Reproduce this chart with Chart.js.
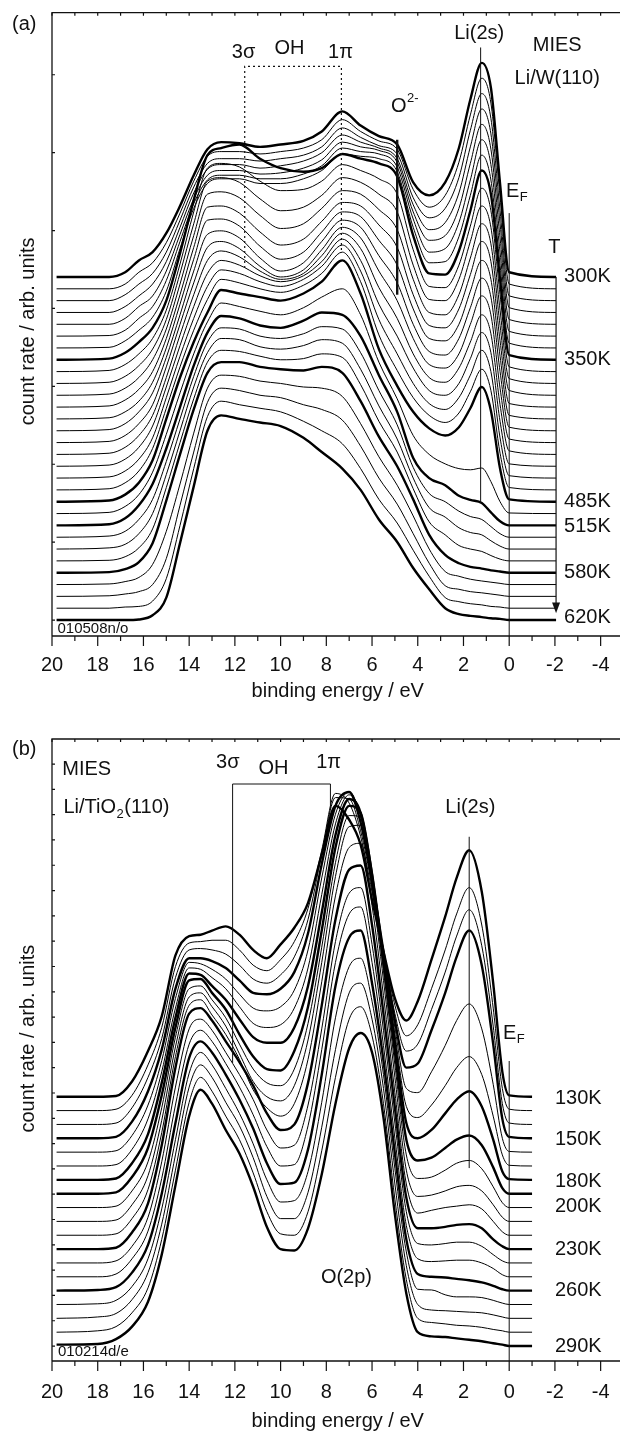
<!DOCTYPE html>
<html><head><meta charset="utf-8">
<script src="https://cdn.jsdelivr.net/npm/chart.js@4.4.1/dist/chart.umd.min.js"></script>
<style>
html,body{margin:0;padding:0;background:#fff;overflow:hidden;width:620px;height:1432px;}
#wa{position:absolute;left:0;top:0;width:640px;height:710px;}
#wb{position:absolute;left:0;top:710px;width:640px;height:724px;}
canvas{display:block;}
</style></head><body>
<div id="wa"><canvas id="ca" width="640" height="710"></canvas></div>
<div id="wb"><canvas id="cb" width="640" height="724"></canvas></div>
<script>
// ---------------- DATA: panel (a) Li/W(110) ----------------
const energyA = [19.8, 17.5, 16.8, 16.2, 15.6, 15.0, 14.4, 13.8, 13.2, 12.6, 11.8, 10.9, 10.0, 9.0, 8.2, 7.3, 6.5, 5.7, 4.9, 4.2, 3.5, 2.8, 2.2, 1.7, 1.2, 0.8, 0.4, 0.0, -2.05];
const tempLabelsA = ['300K', '350K', '485K', '515K', '580K', '620K'];
const labelIndexA = [0, 7, 19, 21, 25, 29];
// intensity above each spectrum's own baseline (arb. units), top spectrum first
const spectraA = [
 [0, 0, 0.4, 1.4, 2.1, 3.7, 6.0, 8.6, 10.8, 11.4, 11.3, 11.0, 11.2, 11.5, 12.3, 14.0, 12.8, 11.9, 11.2, 8.0, 6.9, 8.0, 10.9, 15.0, 18.1, 16.0, 7.9, 0.4, 0],
 [0, 0, 0.4, 1.4, 2.2, 3.9, 6.4, 9.1, 11.2, 11.6, 11.6, 11.4, 11.6, 11.9, 12.6, 14.3, 13.3, 12.5, 11.8, 8.4, 6.9, 7.9, 10.7, 14.7, 17.8, 15.7, 7.8, 0.4, 0],
 [0, 0, 0.5, 1.4, 2.3, 4.1, 6.8, 9.6, 11.6, 12.0, 12.0, 11.8, 12.0, 12.3, 13.0, 14.6, 13.8, 13.1, 12.4, 8.7, 7.0, 7.8, 10.4, 14.4, 17.5, 15.4, 7.6, 0.4, 0],
 [0, 0, 0.5, 1.4, 2.4, 4.3, 7.2, 10.1, 12.1, 12.5, 12.5, 12.2, 12.4, 12.8, 13.5, 15.0, 14.4, 13.9, 13.0, 9.1, 7.0, 7.6, 10.1, 14.0, 17.2, 15.1, 7.5, 0.4, 0],
 [0, 0, 0.5, 1.5, 2.4, 4.5, 7.6, 10.6, 12.6, 13.0, 13.0, 12.7, 12.8, 13.2, 13.9, 15.4, 15.0, 14.7, 13.7, 9.5, 7.1, 7.5, 9.8, 13.6, 16.9, 14.8, 7.3, 0.4, 0],
 [0, 0.05, 0.5, 1.5, 2.5, 4.7, 8.0, 11.2, 13.2, 13.6, 13.6, 13.3, 13.3, 13.7, 14.4, 15.9, 15.6, 15.4, 14.3, 9.9, 7.1, 7.4, 9.6, 13.2, 16.6, 14.5, 7.1, 0.4, 0],
 [0, 0.05, 0.6, 1.5, 2.6, 4.8, 8.4, 11.8, 13.9, 14.3, 14.3, 13.9, 13.9, 14.3, 15.0, 16.4, 16.2, 16.0, 14.9, 10.2, 7.2, 7.3, 9.4, 12.9, 16.3, 14.2, 7.0, 0.4, 0],
 [0, 0.1, 0.6, 1.5, 2.7, 5.0, 9.0, 13.5, 17.3, 17.9, 18.2, 17.0, 16.2, 15.9, 16.2, 17.4, 17.0, 16.6, 15.5, 10.5, 7.3, 7.2, 9.2, 12.6, 16.0, 14.0, 6.8, 0.4, 0],
 [0, 0.1, 0.6, 1.5, 2.8, 5.2, 9.1, 13.5, 17.2, 17.6, 17.3, 16.1, 15.3, 15.4, 16.1, 17.5, 17.0, 16.3, 15.0, 10.3, 7.2, 7.1, 9.0, 12.3, 15.5, 13.6, 6.5, 0.4, 0],
 [0, 0.1, 0.6, 1.5, 2.9, 5.4, 9.3, 13.5, 17.1, 17.4, 17.0, 15.6, 14.6, 14.9, 15.9, 17.4, 17.0, 16.0, 14.5, 10.0, 7.1, 7.0, 8.8, 12.0, 15.0, 13.2, 6.2, 0.4, 0],
 [0, 0.1, 0.6, 1.5, 3.0, 5.6, 9.4, 13.5, 17.0, 17.2, 16.7, 15.2, 14.1, 14.5, 15.8, 17.3, 17.0, 15.7, 14.0, 9.8, 7.0, 6.8, 8.5, 11.6, 14.5, 12.8, 5.9, 0.4, 0],
 [0, 0.1, 0.6, 1.5, 3.0, 5.8, 9.5, 13.5, 16.9, 17.0, 16.4, 14.8, 13.7, 14.2, 15.7, 17.3, 17.0, 15.4, 13.5, 9.5, 6.9, 6.7, 8.3, 11.2, 14.0, 12.3, 5.6, 0.3, 0],
 [0, 0.1, 0.6, 1.5, 3.1, 6.0, 9.7, 13.5, 16.8, 16.9, 16.3, 14.6, 13.5, 14.1, 15.8, 17.5, 17.1, 15.1, 13.0, 9.3, 6.8, 6.6, 8.0, 10.8, 13.4, 11.8, 5.3, 0.3, 0],
 [0, 0.1, 0.6, 1.6, 3.2, 6.2, 9.8, 13.5, 16.6, 16.9, 16.3, 14.6, 13.5, 14.2, 16.0, 17.8, 17.2, 14.8, 12.5, 9.0, 6.7, 6.4, 7.8, 10.4, 12.9, 11.3, 5.0, 0.3, 0],
 [0, 0.1, 0.6, 1.6, 3.2, 6.4, 10.0, 13.5, 16.5, 17.0, 16.4, 14.9, 14.0, 14.6, 16.3, 18.2, 17.3, 14.5, 12.0, 8.8, 6.6, 6.3, 7.5, 10.0, 12.4, 10.8, 4.6, 0.3, 0],
 [0, 0.1, 0.6, 1.6, 3.3, 6.5, 10.1, 13.5, 16.4, 17.2, 16.7, 15.5, 14.8, 15.3, 16.8, 18.7, 17.4, 14.1, 11.5, 8.5, 6.5, 6.1, 7.3, 9.5, 11.8, 10.2, 4.2, 0.3, 0],
 [0, 0.1, 0.6, 1.6, 3.4, 6.7, 10.2, 13.5, 16.3, 17.4, 17.0, 16.1, 15.6, 16.1, 17.3, 19.2, 17.4, 13.7, 11.0, 8.3, 6.4, 6.0, 7.0, 9.1, 11.3, 9.6, 3.8, 0.2, 0],
 [0, 0.1, 0.6, 1.6, 3.4, 6.8, 10.3, 13.5, 16.2, 17.6, 17.3, 16.6, 16.2, 16.8, 17.9, 19.7, 17.5, 13.4, 10.5, 8.0, 6.3, 5.8, 6.8, 8.7, 10.8, 9.0, 3.4, 0.2, 0],
 [0, 0.1, 0.6, 1.6, 3.5, 6.9, 10.4, 13.5, 16.1, 17.8, 17.5, 17.0, 16.7, 17.3, 18.3, 20.1, 17.6, 13.1, 10.1, 7.8, 6.3, 5.7, 6.5, 8.3, 10.2, 8.4, 3.1, 0.2, 0],
 [0, 0.1, 0.6, 1.6, 3.5, 7.0, 10.5, 13.5, 16.0, 17.9, 17.6, 17.3, 17.0, 17.6, 18.6, 20.4, 17.6, 12.9, 9.8, 7.6, 6.2, 5.6, 6.3, 7.9, 9.7, 7.7, 2.8, 0.2, 0],
 [0, 0.1, 0.6, 1.6, 3.5, 6.7, 10.2, 13.5, 16.2, 17.8, 17.5, 17.1, 16.8, 17.4, 18.3, 19.0, 16.8, 12.8, 9.7, 6.6, 5.0, 4.2, 3.8, 3.7, 3.85, 2.7, 1.0, 0.05, 0],
 [0, 0.1, 0.6, 1.7, 3.5, 6.5, 10.0, 13.5, 16.3, 17.7, 17.5, 16.9, 16.7, 17.3, 18.0, 17.8, 16.0, 12.7, 9.6, 5.7, 4.0, 3.4, 2.5, 2.15, 1.9, 1.1, 0.35, 0, 0],
 [0, 0.1, 0.5, 1.5, 3.2, 6.4, 10.0, 13.6, 16.5, 17.7, 17.6, 17.0, 16.8, 17.2, 17.8, 17.6, 15.6, 12.4, 9.5, 5.9, 3.7, 3.0, 2.2, 1.75, 1.5, 0.9, 0.3, 0, 0],
 [0, 0.1, 0.4, 1.3, 3.0, 6.3, 10.0, 13.7, 16.6, 17.8, 17.7, 17.1, 16.9, 17.2, 17.7, 17.4, 15.2, 12.1, 9.3, 6.0, 3.5, 2.7, 1.8, 1.4, 1.2, 0.7, 0.25, 0, 0],
 [0, 0.05, 0.35, 1.1, 2.7, 6.2, 10.0, 13.7, 16.8, 17.8, 17.7, 17.3, 17.0, 17.1, 17.5, 17.2, 14.9, 11.8, 9.2, 6.1, 3.3, 2.2, 1.3, 1.0, 0.8, 0.45, 0.15, 0, 0],
 [0, 0.05, 0.3, 0.9, 2.5, 6.1, 10.0, 13.8, 16.9, 17.8, 17.8, 17.4, 17.2, 17.1, 17.4, 16.9, 14.5, 11.5, 9.0, 6.2, 3.2, 1.5, 0.8, 0.5, 0.35, 0.2, 0.1, 0, 0],
 [0, 0.05, 0.25, 0.6, 1.7, 4.5, 8.5, 12.8, 16.6, 17.7, 17.6, 17.2, 17.0, 16.7, 16.6, 15.9, 13.6, 10.8, 8.4, 5.8, 3.0, 1.1, 0.7, 0.45, 0.3, 0.2, 0.1, 0, 0],
 [0, 0.05, 0.2, 0.4, 1.0, 3.2, 7.7, 12.2, 16.4, 17.6, 17.4, 17.0, 16.8, 16.2, 15.8, 14.9, 12.7, 10.0, 7.8, 5.3, 2.8, 0.9, 0.6, 0.4, 0.3, 0.2, 0.1, 0, 0],
 [0, 0, 0.1, 0.15, 0.6, 2.5, 7.0, 11.8, 16.2, 17.5, 17.2, 16.9, 16.6, 15.8, 15.0, 13.9, 11.8, 9.2, 7.2, 4.9, 2.7, 0.9, 0.55, 0.38, 0.28, 0.15, 0.1, 0, 0],
 [0, 0, 0, 0.05, 0.4, 1.9, 6.5, 11.3, 16.0, 17.3, 17.0, 16.7, 16.4, 15.4, 14.2, 12.8, 11.0, 8.5, 6.6, 4.4, 2.6, 1.0, 0.5, 0.35, 0.25, 0.15, 0.1, 0, 0]
];

// ---------------- DATA: panel (b) Li/TiO2(110) ----------------
const energyB = [19.8, 18, 17.2, 16.5, 15.8, 15.2, 14.6, 14.0, 13.5, 13.0, 12.4, 11.8, 11.2, 10.6, 10.0, 9.4, 8.8, 8.2, 7.6, 7.0, 6.5, 6.0, 5.5, 5.0, 4.5, 4.0, 3.4, 2.8, 2.3, 1.75, 1.2, 0.7, 0.3, 0.0, -1.0];
const tempLabelsB = ['130K', '150K', '180K', '200K', '230K', '260K', '290K'];
const labelIndexB = [0, 3, 6, 7, 11, 14, 18];
const spectraB = [
 [0, 0, 0.05, 1.1, 3.3, 5.8, 10.2, 11.6, 11.7, 12.0, 12.3, 11.7, 10.6, 10.0, 11.0, 12.2, 14.0, 17.5, 21.0, 20.0, 18.2, 14.2, 10.5, 7.1, 5.5, 6.9, 9.9, 13.0, 15.8, 17.8, 14.8, 8.2, 1.8, 0.1, 0],
 [0, 0, 0.1, 1.1, 3.3, 6.0, 10.4, 12.1, 12.2, 12.3, 12.3, 11.6, 10.5, 10.1, 10.9, 12.2, 14.6, 18.8, 22.9, 22.2, 19.8, 15.8, 11.6, 7.6, 5.4, 6.2, 8.8, 11.6, 14.2, 16.1, 13.4, 7.4, 1.6, 0.1, 0],
 [0, 0, 0.1, 1.2, 3.4, 6.2, 10.6, 12.6, 12.7, 12.6, 12.3, 11.5, 10.5, 10.2, 10.8, 12.1, 14.8, 19.5, 23.6, 23.5, 21.2, 17.2, 12.5, 8.0, 5.3, 5.8, 8.3, 11.0, 13.6, 15.5, 12.9, 7.1, 1.5, 0.1, 0],
 [0, 0, 0.1, 1.2, 3.4, 6.4, 10.8, 13.0, 13.0, 12.8, 12.3, 11.4, 10.5, 10.4, 10.8, 12.0, 14.8, 19.8, 24.0, 25.0, 22.8, 18.6, 13.5, 8.5, 5.1, 5.4, 7.8, 10.5, 13.1, 15.0, 12.5, 6.8, 1.4, 0.1, 0],
 [0, 0, 0.1, 1.2, 3.4, 6.6, 11.1, 13.7, 13.6, 13.2, 12.5, 11.4, 10.4, 10.2, 10.5, 11.7, 14.6, 19.8, 24.4, 26.0, 24.2, 19.8, 14.4, 9.0, 4.6, 4.3, 5.8, 7.7, 9.5, 10.7, 8.9, 4.9, 1.0, 0.05, 0],
 [0, 0, 0.1, 1.2, 3.4, 6.8, 11.4, 14.3, 14.2, 13.6, 12.8, 11.5, 10.3, 10.0, 10.2, 11.4, 14.3, 19.6, 24.7, 26.8, 25.4, 21.0, 15.3, 9.5, 4.3, 3.5, 4.4, 5.8, 7.1, 7.9, 6.6, 3.6, 0.8, 0.05, 0],
 [0, 0, 0.1, 1.2, 3.3, 7.0, 11.7, 14.9, 14.8, 14.0, 13.0, 11.6, 10.3, 9.9, 9.9, 11.0, 14.0, 19.3, 24.9, 27.5, 26.5, 22.1, 16.0, 9.9, 4.1, 3.0, 3.6, 4.8, 5.8, 6.4, 5.3, 2.9, 0.6, 0.05, 0],
 [0, 0, 0.1, 1.2, 3.3, 7.1, 12.0, 15.4, 15.5, 14.5, 13.3, 11.5, 9.9, 9.0, 8.9, 10.3, 13.5, 19.0, 25.0, 28.0, 27.5, 23.0, 16.7, 10.2, 3.9, 2.4, 2.6, 3.3, 3.9, 4.2, 3.5, 1.9, 0.4, 0, 0],
 [0, 0, 0.1, 1.2, 3.3, 7.2, 12.3, 15.8, 16.0, 15.0, 13.7, 11.8, 10.0, 9.0, 8.8, 10.0, 13.3, 18.8, 24.9, 28.3, 28.2, 23.6, 17.1, 10.3, 3.8, 2.1, 2.2, 2.7, 3.2, 3.4, 2.8, 1.5, 0.35, 0, 0],
 [0, 0, 0.1, 1.2, 3.3, 7.3, 12.6, 16.2, 16.5, 15.5, 14.1, 12.1, 10.1, 9.0, 8.7, 9.8, 13.1, 18.7, 24.9, 28.5, 28.6, 24.0, 17.4, 10.4, 3.7, 1.8, 1.9, 2.2, 2.5, 2.6, 2.2, 1.2, 0.3, 0, 0],
 [0, 0, 0.1, 1.2, 3.3, 7.4, 12.9, 16.6, 17.0, 15.9, 14.5, 12.7, 10.5, 9.2, 8.6, 9.5, 12.7, 18.3, 24.5, 28.0, 28.3, 23.8, 17.3, 10.3, 3.7, 1.6, 1.8, 2.0, 2.1, 2.2, 1.9, 1.0, 0.25, 0, 0],
 [0, 0, 0.1, 1.2, 3.3, 7.5, 13.1, 17.0, 17.4, 16.5, 15.0, 13.5, 11.8, 9.8, 8.6, 9.0, 12.0, 17.6, 23.8, 27.4, 27.7, 23.4, 17.0, 10.2, 3.7, 1.5, 1.5, 1.6, 1.75, 1.8, 1.5, 0.7, 0.2, 0, 0],
 [0, 0, 0.15, 1.2, 3.3, 7.3, 12.7, 16.9, 17.6, 16.8, 15.2, 13.6, 11.8, 9.6, 8.3, 8.5, 11.4, 16.9, 23.2, 26.7, 27.1, 23.0, 16.8, 10.1, 3.7, 1.4, 1.3, 1.4, 1.5, 1.5, 1.2, 0.6, 0.15, 0, 0],
 [0, 0, 0.2, 1.3, 3.3, 7.1, 12.4, 16.8, 17.8, 17.0, 15.4, 13.7, 11.7, 9.4, 8.0, 8.1, 10.9, 16.4, 22.7, 26.2, 26.7, 22.7, 16.7, 10.0, 3.7, 1.3, 1.1, 1.15, 1.2, 1.2, 1.0, 0.6, 0.15, 0, 0],
 [0, 0.05, 0.25, 1.3, 3.3, 7.0, 12.1, 16.8, 18.0, 17.2, 15.6, 13.8, 11.7, 9.2, 7.7, 7.8, 10.2, 15.6, 22.0, 25.5, 26.0, 22.2, 16.6, 9.9, 3.7, 1.2, 1.0, 0.95, 0.85, 0.75, 0.6, 0.35, 0.1, 0, 0],
 [0, 0.05, 0.3, 1.3, 3.3, 6.9, 11.9, 16.7, 18.2, 17.3, 15.6, 13.8, 11.6, 9.0, 7.4, 7.5, 9.6, 14.6, 20.7, 24.4, 25.0, 21.9, 16.6, 9.8, 3.8, 1.1, 1.05, 0.7, 0.55, 0.55, 0.5, 0.3, 0.1, 0, 0],
 [0, 0.1, 0.35, 1.35, 3.3, 6.8, 11.8, 16.7, 18.3, 17.4, 15.6, 13.9, 11.6, 8.8, 7.2, 7.2, 9.1, 13.8, 19.4, 23.5, 24.2, 21.6, 16.6, 9.7, 3.8, 1.0, 0.6, 0.55, 0.5, 0.45, 0.4, 0.25, 0.1, 0, 0],
 [0, 0.1, 0.4, 1.4, 3.2, 6.7, 11.7, 16.6, 18.4, 17.4, 15.6, 13.9, 11.5, 8.7, 7.1, 7.0, 8.7, 13.1, 18.4, 22.6, 23.5, 21.4, 16.5, 9.6, 3.8, 1.0, 0.7, 0.6, 0.5, 0.45, 0.35, 0.2, 0.1, 0, 0],
 [0.1, 0.15, 0.5, 1.4, 3.2, 6.6, 11.6, 16.6, 18.5, 17.5, 15.6, 13.9, 11.5, 8.6, 7.0, 6.9, 8.5, 12.4, 17.5, 21.5, 22.6, 21.2, 16.5, 9.5, 3.8, 1.0, 0.7, 0.65, 0.55, 0.45, 0.35, 0.2, 0.1, 0, 0]
];
const xTickValues = [-4, -2, 0, 2, 4, 6, 8, 10, 12, 14, 16, 18, 20];

// ---------------- rendering ----------------
const FONT = "'Liberation Sans', Arial, Helvetica, sans-serif";
Chart.defaults.font.family = FONT;
Chart.defaults.color = '#111';
const INK = '#111';

function buildDatasets(energy, spectra, boldIdx) {
  const n = spectra.length;
  return spectra.map((row, i) => ({
    data: row.map((h, k) => ({ x: energy[k], y: (n - 1 - i) + h })),
    borderColor: '#000',
    borderWidth: boldIdx.includes(i) ? 2.4 : 1,
    pointRadius: 0,
    fill: false,
    cubicInterpolationMode: 'monotone'
  }));
}

function P(chart, e, u) { return [chart.scales.x.getPixelForValue(e), chart.scales.y.getPixelForValue(u)]; }
function txt(ctx, s, x, y, size, align) {
  ctx.font = size + 'px ' + FONT; ctx.fillStyle = INK;
  ctx.textAlign = align || 'center'; ctx.textBaseline = 'middle';
  ctx.fillText(s, x, y);
}
function line(ctx, pts, w, dash) {
  ctx.save(); ctx.strokeStyle = INK; ctx.lineWidth = w || 1; ctx.setLineDash(dash || []);
  ctx.beginPath(); ctx.moveTo(pts[0][0], pts[0][1]);
  for (let i = 1; i < pts.length; i++) ctx.lineTo(pts[i][0], pts[i][1]);
  ctx.stroke(); ctx.restore();
}
function drawFrame(chart, yTickStep, yTickCount) {
  const { ctx, chartArea: a, scales: { x, y } } = chart;
  ctx.save();
  ctx.strokeStyle = INK; ctx.lineWidth = 1.3;
  ctx.beginPath();
  ctx.moveTo(a.left, a.bottom); ctx.lineTo(a.left, a.top); ctx.lineTo(a.right + 5, a.top);
  ctx.moveTo(a.left, a.bottom); ctx.lineTo(a.right + 5, a.bottom);
  ctx.stroke();
  ctx.lineWidth = 1.2;
  ctx.beginPath();
  for (let e = -5; e <= 20; e++) {
    const px = x.getPixelForValue(e);
    const len = (e % 2 === 0) ? 10 : 5;
    ctx.moveTo(px, a.bottom); ctx.lineTo(px, a.bottom + len);
    ctx.moveTo(px, a.top); ctx.lineTo(px, a.top + 3);
  }
  for (let k = 0; k <= yTickCount; k++) {
    const py = y.getPixelForValue(k * yTickStep);
    ctx.moveTo(a.left, py); ctx.lineTo(a.left + 3, py);
  }
  ctx.stroke();
  ctx.restore();
}
function drawTempLabels(chart, n, idx, labels, eLabel, nudge) {
  const ctx = chart.ctx;
  idx.forEach((i, k) => {
    const [px, py] = P(chart, eLabel, n - 1 - i);
    txt(ctx, labels[k], px, py + nudge[k], 20, 'left');
  });
}
function yTitle(chart, u) {
  const ctx = chart.ctx; const py = chart.scales.y.getPixelForValue(u);
  ctx.save(); ctx.translate(28, py); ctx.rotate(-Math.PI / 2);
  txt(ctx, 'count rate / arb. units', 0, 0, 20, 'center'); ctx.restore();
}
function subText(ctx, base, sub, x, y, shift) {
  ctx.font = '20px ' + FONT; ctx.fillStyle = INK; ctx.textAlign = 'left'; ctx.textBaseline = 'middle';
  ctx.fillText(base, x, y);
  const w = ctx.measureText(base).width;
  ctx.font = '13px ' + FONT; ctx.fillText(sub, x + w + 0.5, y + shift);
  return x + w + 0.5 + ctx.measureText(sub).width;
}

const annotA = {
  id: 'annotA',
  afterDatasetsDraw(chart) {
    const ctx = chart.ctx; const n = spectraA.length;
    drawFrame(chart, 6.585, 7);
    line(ctx, [P(chart, 0, 34.4), [chart.scales.x.getPixelForValue(0), chart.chartArea.bottom]], 1);
    line(ctx, [P(chart, 1.25, 48.4), P(chart, 1.25, 9.9)], 1);
    line(ctx, [P(chart, 4.9, 40.6), P(chart, 4.9, 27.5)], 2.4);
    line(ctx, [P(chart, 11.57, 29.75), P(chart, 11.57, 46.8), P(chart, 7.34, 46.8), P(chart, 7.34, 31.1)], 1.2, [2, 3]);
    const [tx, ty0] = P(chart, -2.05, n - 1); const ty1 = chart.scales.y.getPixelForValue(1.4);
    line(ctx, [[tx, ty0], [tx, ty1]], 1.2);
    const tip = chart.scales.y.getPixelForValue(0.57);
    ctx.save(); ctx.fillStyle = INK; ctx.beginPath();
    ctx.moveTo(tx - 4, ty1 - 1); ctx.lineTo(tx + 4, ty1 - 1); ctx.lineTo(tx, tip); ctx.closePath(); ctx.fill(); ctx.restore();
    let p;
    p = P(chart, 1.31, 49.6); txt(ctx, 'Li(2s)', p[0], p[1], 20);
    p = P(chart, -2.1, 48.6); txt(ctx, 'MIES', p[0], p[1], 20);
    p = P(chart, -2.1, 45.8); txt(ctx, 'Li/W(110)', p[0], p[1], 20);
    p = P(chart, 11.62, 48.0); txt(ctx, '3σ', p[0], p[1], 20);
    p = P(chart, 9.61, 48.35); txt(ctx, 'OH', p[0], p[1], 20);
    p = P(chart, 7.38, 48.0); txt(ctx, '1π', p[0], p[1], 20);
    p = P(chart, 5.17, 43.4); subText(ctx, 'O', '2-', p[0], p[1], -8);
    p = P(chart, 0.14, 36.2); subText(ctx, 'E', 'F', p[0], p[1], 6);
    p = P(chart, -1.97, 31.5); txt(ctx, 'T', p[0], p[1], 20);
    p = P(chart, 19.76, -0.76); txt(ctx, '010508n/o', p[0], p[1], 15, 'left');
    drawTempLabels(chart, n, labelIndexA, tempLabelsA, -2.4, [0, 0, 0, 1.4, 0, -3]);
    yTitle(chart, 24.4);
    txt(ctx, '(a)', 12, 24.5, 20, 'left');
  }
};

const annotB = {
  id: 'annotB',
  afterDatasetsDraw(chart) {
    const ctx = chart.ctx; const n = spectraB.length;
    drawFrame(chart, 1.827, 23);
    line(ctx, [P(chart, 0, 20.58), [chart.scales.x.getPixelForValue(0), chart.chartArea.bottom]], 1);
    line(ctx, [P(chart, 1.75, 36.77), P(chart, 1.75, 12.85)], 1);
    line(ctx, [P(chart, 12.1, 20.43), P(chart, 12.1, 40.58), P(chart, 7.82, 40.58), P(chart, 7.82, 38.7)], 1);
    let p;
    p = P(chart, 19.55, 41.66); txt(ctx, 'MIES', p[0], p[1], 20, 'left');
    p = P(chart, 19.5, 38.85); let xe = subText(ctx, 'Li/TiO', '2', p[0], p[1], 6);
    ctx.font = '20px ' + FONT; ctx.textAlign = 'left'; ctx.fillText('(110)', xe + 0.5, p[1]);
    p = P(chart, 12.31, 42.1); txt(ctx, '3σ', p[0], p[1], 20);
    p = P(chart, 10.31, 41.7); txt(ctx, 'OH', p[0], p[1], 20);
    p = P(chart, 7.9, 42.1); txt(ctx, '1π', p[0], p[1], 20);
    p = P(chart, 1.70, 38.9); txt(ctx, 'Li(2s)', p[0], p[1], 20);
    p = P(chart, 7.12, 4.98); txt(ctx, 'O(2p)', p[0], p[1], 20);
    p = P(chart, 0.27, 22.6); subText(ctx, 'E', 'F', p[0], p[1], 6);
    p = P(chart, 19.74, -0.43); txt(ctx, '010214d/e', p[0], p[1], 15, 'left');
    drawTempLabels(chart, n, labelIndexB, tempLabelsB, -2.0, [1.3, 0.7, 1.7, 12.7, 0, 0, 0]);
    yTitle(chart, 22.2);
    txt(ctx, '(b)', 12, 39, 20, 'left');
  }
};

function makeChart(canvas, energy, spectra, boldIdx, cfg, plugin) {
  return new Chart(canvas, {
    type: 'line',
    data: { datasets: buildDatasets(energy, spectra, boldIdx) },
    options: {
      responsive: false, animation: false, devicePixelRatio: 1, events: [],
      layout: { padding: { left: 52, right: 16.5, top: cfg.padTop, bottom: 0 } },
      plugins: { legend: { display: false }, tooltip: { enabled: false } },
      scales: {
        x: {
          type: 'linear', position: 'bottom', min: -5, max: 20, reverse: true,
          afterFit: (s) => { s.height = cfg.axisH; },
          grid: { display: false, drawTicks: true, tickLength: 10 },
          border: { display: false },
          ticks: {
            stepSize: 1, autoSkip: false, maxRotation: 0, minRotation: 0, padding: cfg.tickPad,
            font: { size: 20 }, color: INK,
            callback: (v) => xTickValues.includes(v) ? String(v) : ''
          },
          title: { display: true, text: 'binding energy / eV', font: { size: 20 }, color: INK,
                   padding: { top: 0, bottom: cfg.titlePad } }
        },
        y: { type: 'linear', display: false, min: cfg.ymin, max: cfg.ymax }
      }
    },
    plugins: [plugin]
  });
}

makeChart(document.getElementById('ca'), energyA, spectraA, labelIndexA,
  { padTop: 12.7, axisH: 74, tickPad: 7, titlePad: 7, ymin: -1.35, ymax: 51.34 }, annotA);
makeChart(document.getElementById('cb'), energyB, spectraB, labelIndexB,
  { padTop: 29, axisH: 73, tickPad: 9, titlePad: 1, ymin: -1.08, ymax: 43.83 }, annotB);
</script>
</body></html>
